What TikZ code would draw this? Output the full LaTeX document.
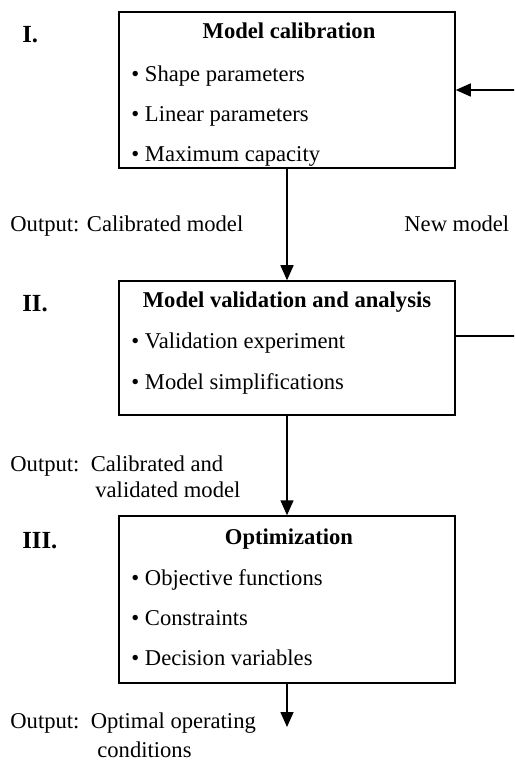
\documentclass[tikz,border=0pt]{standalone}
\usepackage{fontspec}
\setmainfont{Liberation Serif}
\usetikzlibrary{arrows.meta}

\begin{document}
\begin{tikzpicture}[
    x=0.5pt, y=-0.5pt,
    font=\fontsize{11.3}{13}\selectfont,
    stage/.style={
        draw,
        rectangle,
        line width=0.75pt,
        inner sep=0pt,
        minimum width=168pt
    },
    title/.style={anchor=base, inner sep=0pt, font=\fontsize{11.3}{13}\selectfont\bfseries},
    item/.style={anchor=base west, inner sep=0pt},
    label/.style={anchor=base west, inner sep=0pt},
    numeral/.style={anchor=base west, inner sep=0pt, font=\fontsize{12.3}{14}\selectfont\bfseries},
    arrow/.style={-{Triangle[length=7.5pt,width=6.5pt]}, line width=0.75pt}
]
\clip (0,0) rectangle (514,763);

% Stage boxes
\node[stage, minimum height=78pt] (calib) at (287,90) {};
\node[stage, minimum height=67pt] (valid) at (287,348) {};
\node[stage, minimum height=83.5pt] (optim) at (287,599.5) {};

% Stage numbers
\node[numeral] (numI) at (22,43) {I.};
\node[numeral] (numII) at (22,312) {II.};
\node[numeral] (numIII) at (22,548) {III.};

% Box I contents
\node[title] (calibtitle) at (289,39) {Model calibration};
\node[item] (shape) at (131,82) {\textbullet\ Shape parameters};
\node[item] (linear) at (131,122) {\textbullet\ Linear parameters};
\node[item] (maxcap) at (131,162) {\textbullet\ Maximum capacity};

% Box II contents
\node[title] (validtitle) at (287,308) {Model validation and analysis};
\node[item] (experiment) at (131,349) {\textbullet\ Validation experiment};
\node[item] (simplify) at (131,389) {\textbullet\ Model simplifications};

% Box III contents
\node[title] (optimtitle) at (289,544) {Optimization};
\node[item] (objective) at (131,585) {\textbullet\ Objective functions};
\node[item] (constraints) at (131,625) {\textbullet\ Constraints};
\node[item] (decision) at (131,665) {\textbullet\ Decision variables};

% Output labels
\node[label] (outcalib) at (10,232) {Output: Calibrated model};
\node[label] (newmodel) at (404,232) {New model};
\node[label] (outvalid) at (10,471) {Output:\ \ Calibrated and};
\node[label] (outvalidb) at (95,497) {validated model};
\node[label] (outoptim) at (10,728) {Output:\ \ Optimal operating};
\node[label] (outoptimb) at (97,757) {conditions};

\coordinate (finish) at (287,727);

% Arrows between stages
\draw[arrow] (calib) -- (valid);
\draw[arrow] (valid) -- (optim);
\draw[arrow] (optim) -- (finish);

% Feedback loop
\draw[arrow] ([yshift=6pt]valid.east) -- ++(80,0) |- (calib.east);

\end{tikzpicture}
\end{document}
